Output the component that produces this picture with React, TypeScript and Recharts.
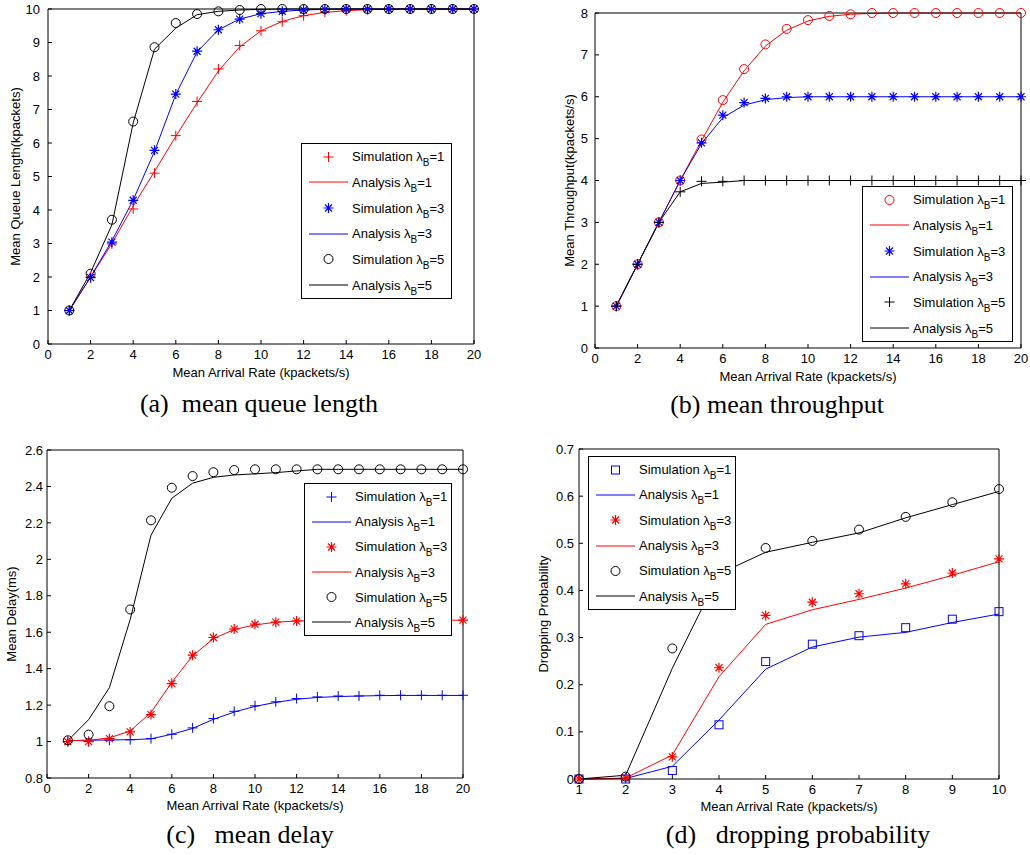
import { Label, Line, LineChart, XAxis, YAxis } from 'recharts';

const RED = '#ff0000';
const BLUE = '#0000ff';
const BLACK = '#000000';
const SANS = '"Liberation Sans", Arial, sans-serif';
const SERIF = '"Liberation Serif", "Times New Roman", serif';

// arrival rates (kpackets/s)
const ratesTo20 = [1, 2, 3, 4, 5, 6, 7, 8, 9, 10, 11, 12, 13, 14, 15, 16, 17, 18, 19, 20];
const ratesTo10 = [1, 2, 3, 4, 5, 6, 7, 8, 9, 10];

// (a) mean queue length
const queueSim1 = [1.0, 2.0, 2.99, 4.03, 5.1, 6.22, 7.24, 8.21, 8.91, 9.35, 9.62, 9.8, 9.9, 9.95, 9.98, 10, 10, 10, 10, 10];
const queueAna1 = [1.0, 2.0, 3.0, 4.12, 5.15, 6.2, 7.2, 8.15, 8.87, 9.35, 9.63, 9.8, 9.9, 9.95, 9.98, 9.99, 10, 10, 10, 10];
const queueSim3 = [1.0, 1.98, 3.04, 4.29, 5.78, 7.46, 8.74, 9.38, 9.7, 9.86, 9.93, 9.97, 9.99, 10, 10, 10, 10, 10, 10, 10];
const queueAna3 = [1.0, 2.0, 3.08, 4.3, 5.75, 7.45, 8.72, 9.38, 9.7, 9.86, 9.93, 9.97, 9.99, 10, 10, 10, 10, 10, 10, 10];
const queueSim5 = [1.0, 2.1, 3.71, 6.64, 8.86, 9.58, 9.85, 9.93, 9.97, 10, 10, 10, 10, 10, 10, 10, 10, 10, 10, 10];
const queueAna5 = [1.0, 2.13, 3.56, 6.6, 8.8, 9.43, 9.83, 9.93, 9.97, 9.99, 10, 10, 10, 10, 10, 10, 10, 10, 10, 10];

// (b) mean throughput
const tputSim1 = [1, 2, 3, 4, 4.98, 5.92, 6.66, 7.25, 7.62, 7.83, 7.93, 7.97, 8, 8, 8, 8, 8, 8, 8, 8];
const tputAna1 = [1, 2, 3, 4, 4.95, 5.87, 6.62, 7.21, 7.59, 7.81, 7.92, 7.97, 7.99, 8, 8, 8, 8, 8, 8, 8];
const tputSim3 = [1, 2, 3, 4, 4.9, 5.56, 5.86, 5.96, 6.0, 6, 6, 6, 6, 6, 6, 6, 6, 6, 6, 6];
const tputAna3 = [1, 2, 3, 4, 4.88, 5.5, 5.8, 5.93, 5.98, 6, 6, 6, 6, 6, 6, 6, 6, 6, 6, 6];
const tputSim5 = [1, 2, 3, 3.73, 3.98, 3.98, 4, 4, 4, 4, 4, 4, 4, 4, 4, 4, 4, 4, 4, 4];
const tputAna5 = [1, 2, 3, 3.73, 3.93, 3.96, 4, 4, 4, 4, 4, 4, 4, 4, 4, 4, 4, 4, 4, 4];

// (c) mean delay (ms)
const delaySim1 = [1.0, 1.0, 1.007, 1.01, 1.016, 1.04, 1.075, 1.126, 1.166, 1.196, 1.218, 1.236, 1.245, 1.25, 1.25, 1.254, 1.254, 1.254, 1.254, 1.254];
const delayAna1 = [1.005, 1.007, 1.009, 1.01, 1.015, 1.04, 1.072, 1.122, 1.162, 1.193, 1.215, 1.232, 1.242, 1.247, 1.25, 1.252, 1.253, 1.253, 1.253, 1.253];
const delaySim3 = [1.0, 1.0, 1.016, 1.053, 1.148, 1.318, 1.474, 1.571, 1.617, 1.644, 1.655, 1.661, 1.666, 1.666, 1.666, 1.666, 1.666, 1.666, 1.666, 1.666];
const delayAna3 = [1.005, 1.007, 1.02, 1.058, 1.16, 1.325, 1.47, 1.565, 1.615, 1.64, 1.655, 1.662, 1.665, 1.666, 1.666, 1.666, 1.666, 1.666, 1.666, 1.666];
const delaySim5 = [1.007, 1.038, 1.194, 1.725, 2.214, 2.393, 2.457, 2.478, 2.49, 2.494, 2.494, 2.494, 2.494, 2.494, 2.494, 2.494, 2.494, 2.494, 2.494, 2.494];
const delayAna5 = [1.005, 1.12, 1.296, 1.67, 2.133, 2.335, 2.418, 2.45, 2.463, 2.469, 2.476, 2.485, 2.494, 2.494, 2.494, 2.494, 2.494, 2.494, 2.494, 2.494];

// (d) dropping probability
const dropSim1 = [0, 0, 0.018, 0.115, 0.249, 0.286, 0.304, 0.321, 0.339, 0.355];
const dropAna1 = [0, 0.001, 0.027, 0.125, 0.233, 0.28, 0.301, 0.311, 0.332, 0.35];
const dropSim3 = [0, 0.002, 0.047, 0.236, 0.347, 0.375, 0.393, 0.414, 0.437, 0.467];
const dropAna3 = [0, 0.002, 0.051, 0.217, 0.328, 0.359, 0.381, 0.405, 0.432, 0.461];
const dropSim5 = [0, 0.005, 0.277, 0.44, 0.49, 0.505, 0.529, 0.556, 0.587, 0.615];
const dropAna5 = [0, 0.008, 0.235, 0.435, 0.481, 0.502, 0.522, 0.554, 0.582, 0.61];

// tick values
const rateTicks20 = [0, 2, 4, 6, 8, 10, 12, 14, 16, 18, 20];
const rateTicks10 = [1, 2, 3, 4, 5, 6, 7, 8, 9, 10];
const queueTicks = [0, 1, 2, 3, 4, 5, 6, 7, 8, 9, 10];
const tputTicks = [0, 1, 2, 3, 4, 5, 6, 7, 8];
const delayTicks = [0.8, 1, 1.2, 1.4, 1.6, 1.8, 2, 2.2, 2.4, 2.6];
const dropTicks = [0, 0.1, 0.2, 0.3, 0.4, 0.5, 0.6, 0.7];

type MarkKind = 'plus' | 'star' | 'circle' | 'square' | 'none';

type Series = {
  key: string;
  label: string;
  lambda: number;
  kind: MarkKind;
  color: string;
  values: number[];
};

type PanelConfig = {
  left: number;
  top: number;
  width: number;
  height: number;
  margin: { top: number; right: number; bottom: number; left: number };
  yAxisWidth: number;
  yTickMargin: number;
  yTitleOffset: number;
  xTitleOffset: number;
  rates: number[];
  xDomain: [number, number];
  xTicks: number[];
  yDomain: [number, number];
  yTicks: number[];
  yTitle: string;
  caption: string;
  captionX: number;
  captionY: number;
  legendLeft: number;
  legendTop: number;
  legendWidth: number;
  legendRow: number;
  series: Series[];
};

function sim(key: string, lambda: number, kind: MarkKind, color: string, values: number[]): Series {
  return { key, label: 'Simulation', lambda, kind, color, values };
}

function ana(key: string, lambda: number, color: string, values: number[]): Series {
  return { key, label: 'Analysis', lambda, kind: 'none', color, values };
}

// positions below are relative to each panel's box
const panels: PanelConfig[] = [
  {
    left: 0, top: 0, width: 515, height: 430,
    margin: { top: 8, right: 40, bottom: 56, left: 0 },
    yAxisWidth: 48, yTickMargin: 12, yTitleOffset: 15, xTitleOffset: -6,
    rates: ratesTo20, xDomain: [0, 20], xTicks: rateTicks20, yDomain: [0, 10], yTicks: queueTicks,
    yTitle: 'Mean Queue Length(kpackets)',
    caption: '(a)  mean queue length', captionX: 259, captionY: 404,
    legendLeft: 301, legendTop: 143, legendWidth: 151, legendRow: 25.67,
    series: [
      sim('s1', 1, 'plus', RED, queueSim1),
      ana('a1', 1, RED, queueAna1),
      sim('s3', 3, 'star', BLUE, queueSim3),
      ana('a3', 3, BLUE, queueAna3),
      sim('s5', 5, 'circle', BLACK, queueSim5),
      ana('a5', 5, BLACK, queueAna5)
    ]
  },
  {
    left: 515, top: 0, width: 515, height: 430,
    margin: { top: 12, right: 8, bottom: 52, left: 0 },
    yAxisWidth: 80, yTickMargin: 11, yTitleOffset: 54, xTitleOffset: -6,
    rates: ratesTo20, xDomain: [0, 20], xTicks: rateTicks20, yDomain: [0, 8], yTicks: tputTicks,
    yTitle: 'Mean Throughput(kpackets/s)',
    caption: '(b) mean throughput', captionX: 262, captionY: 405,
    legendLeft: 347, legendTop: 186, legendWidth: 151, legendRow: 25.67,
    series: [
      sim('s1', 1, 'circle', RED, tputSim1),
      ana('a1', 1, RED, tputAna1),
      sim('s3', 3, 'star', BLUE, tputSim3),
      ana('a3', 3, BLUE, tputAna3),
      sim('s5', 5, 'plus', BLACK, tputSim5),
      ana('a5', 5, BLACK, tputAna5)
    ]
  },
  {
    left: 0, top: 430, width: 515, height: 425,
    margin: { top: 19, right: 51, bottom: 47, left: 0 },
    yAxisWidth: 47, yTickMargin: 8, yTitleOffset: 11, xTitleOffset: -7,
    rates: ratesTo20, xDomain: [0, 20], xTicks: rateTicks20, yDomain: [0.8, 2.6], yTicks: delayTicks,
    yTitle: 'Mean Delay(ms)',
    caption: '(c)   mean delay', captionX: 250, captionY: 405,
    legendLeft: 304, legendTop: 53, legendWidth: 148, legendRow: 25.17,
    series: [
      sim('s1', 1, 'plus', BLUE, delaySim1),
      ana('a1', 1, BLUE, delayAna1),
      sim('s3', 3, 'star', RED, delaySim3),
      ana('a3', 3, RED, delayAna3),
      sim('s5', 5, 'circle', BLACK, delaySim5),
      ana('a5', 5, BLACK, delayAna5)
    ]
  },
  {
    left: 515, top: 430, width: 515, height: 425,
    margin: { top: 18, right: 30, bottom: 46, left: 0 },
    yAxisWidth: 64, yTickMargin: 9, yTitleOffset: 28, xTitleOffset: -7,
    rates: ratesTo10, xDomain: [1, 10], xTicks: rateTicks10, yDomain: [0, 0.7], yTicks: dropTicks,
    yTitle: 'Dropping Probability',
    caption: '(d)   dropping probability', captionX: 283, captionY: 405,
    legendLeft: 73, legendTop: 26, legendWidth: 148, legendRow: 25.33,
    series: [
      sim('s1', 1, 'square', BLUE, dropSim1),
      ana('a1', 1, BLUE, dropAna1),
      sim('s3', 3, 'star', RED, dropSim3),
      ana('a3', 3, RED, dropAna3),
      sim('s5', 5, 'circle', BLACK, dropSim5),
      ana('a5', 5, BLACK, dropAna5)
    ]
  }
];

function Mark({ cx, cy, kind, color }: { cx?: number | null; cy?: number | null; kind: MarkKind; color: string }) {
  if (cx == null || cy == null || kind === 'none') {
    return null;
  }
  const s = 5;
  if (kind === 'plus') {
    return <path d={`M${cx - s},${cy}H${cx + s}M${cx},${cy - s}V${cy + s}`} stroke={color} strokeWidth={1} fill="none" />;
  }
  if (kind === 'star') {
    const d = 3.5;
    return (
      <path
        d={`M${cx - s},${cy}H${cx + s}M${cx},${cy - s}V${cy + s}M${cx - d},${cy - d}L${cx + d},${cy + d}M${cx - d},${cy + d}L${cx + d},${cy - d}`}
        stroke={color}
        strokeWidth={1.2}
        fill="none"
      />
    );
  }
  if (kind === 'circle') {
    return <circle cx={cx} cy={cy} r={4.5} stroke={color} strokeWidth={1} fill="none" />;
  }
  return <rect x={cx - 4} y={cy - 4} width={8} height={8} stroke={color} strokeWidth={1} fill="none" />;
}

function LegendSymbol({ s }: { s: Series }) {
  return (
    <svg width={39} height={14} style={{ flex: 'none', marginLeft: 7, marginRight: 4 }}>
      {s.kind === 'none' ? (
        <line x1={0} x2={39} y1={7} y2={7} stroke={s.color} strokeWidth={1} />
      ) : (
        <Mark cx={19.5} cy={7} kind={s.kind} color={s.color} />
      )}
    </svg>
  );
}

function PanelLegend({ cfg }: { cfg: PanelConfig }) {
  return (
    <div
      style={{
        position: 'absolute',
        left: cfg.legendLeft,
        top: cfg.legendTop,
        width: cfg.legendWidth,
        boxSizing: 'border-box',
        border: '1px solid #000',
        background: '#fff',
        fontFamily: SANS,
        fontSize: 13,
        color: '#000'
      }}
    >
      {cfg.series.map((s) => (
        <div key={s.key} style={{ display: 'flex', alignItems: 'center', height: cfg.legendRow }}>
          <LegendSymbol s={s} />
          <span style={{ whiteSpace: 'nowrap', lineHeight: 1 }}>
            {s.label} λ<sub style={{ fontSize: 10, verticalAlign: -5, lineHeight: 0 }}>B</sub>={s.lambda}
          </span>
        </div>
      ))}
    </div>
  );
}

function formatTick(value: number): string {
  return String(Number(Number(value).toFixed(1)));
}

function Panel({ cfg }: { cfg: PanelConfig }) {
  const data = cfg.rates.map((rate, i) => {
    const row: Record<string, number> = { rate };
    cfg.series.forEach((s) => {
      row[s.key] = s.values[i];
    });
    return row;
  });
  const tickStyle = { fill: '#000', fontSize: 13 };
  const frame = { stroke: '#000', strokeWidth: 1 };

  return (
    <div style={{ position: 'absolute', left: cfg.left, top: cfg.top, width: cfg.width, height: cfg.height, fontFamily: SANS }}>
      <LineChart width={cfg.width} height={cfg.height} data={data} margin={cfg.margin}>
        <XAxis
          dataKey="rate"
          type="number"
          domain={cfg.xDomain}
          ticks={cfg.xTicks}
          interval={0}
          height={30}
          tickSize={-4}
          tickMargin={10}
          tick={tickStyle}
          axisLine={frame}
          tickLine={frame}
        >
          <Label value="Mean Arrival Rate (kpackets/s)" position="bottom" offset={cfg.xTitleOffset} style={{ fontSize: 13, fill: '#000' }} />
        </XAxis>
        <XAxis
          xAxisId="top"
          dataKey="rate"
          orientation="top"
          type="number"
          domain={cfg.xDomain}
          ticks={cfg.xTicks}
          interval={0}
          height={1}
          tickSize={-4}
          tick={false}
          axisLine={frame}
          tickLine={frame}
        />
        <YAxis
          type="number"
          domain={cfg.yDomain}
          ticks={cfg.yTicks}
          interval={0}
          width={cfg.yAxisWidth}
          tickSize={-4}
          tickMargin={cfg.yTickMargin}
          tickFormatter={formatTick}
          tick={tickStyle}
          axisLine={frame}
          tickLine={frame}
        >
          <Label
            value={cfg.yTitle}
            angle={-90}
            position="insideLeft"
            offset={cfg.yTitleOffset}
            style={{ textAnchor: 'middle', fontSize: 13, fill: '#000' }}
          />
        </YAxis>
        <YAxis
          yAxisId="right"
          orientation="right"
          type="number"
          domain={cfg.yDomain}
          ticks={cfg.yTicks}
          interval={0}
          width={1}
          tickSize={-4}
          tick={false}
          axisLine={frame}
          tickLine={frame}
        />
        {cfg.series.map((s) =>
          s.kind === 'none' ? (
            <Line key={s.key} dataKey={s.key} stroke={s.color} strokeWidth={1} dot={false} activeDot={false} isAnimationActive={false} />
          ) : (
            <Line
              key={s.key}
              dataKey={s.key}
              stroke="none"
              activeDot={false}
              isAnimationActive={false}
              dot={(p: any) => <Mark key={`${s.key}-${p.index}`} cx={p.cx} cy={p.cy} kind={s.kind} color={s.color} />}
            />
          )
        )}
      </LineChart>
      <PanelLegend cfg={cfg} />
      <div
        style={{
          position: 'absolute',
          left: cfg.captionX - 200,
          top: cfg.captionY - 15,
          width: 400,
          height: 30,
          lineHeight: '30px',
          textAlign: 'center',
          whiteSpace: 'pre',
          fontFamily: SERIF,
          fontSize: 26,
          color: '#000'
        }}
      >
        {cfg.caption}
      </div>
    </div>
  );
}

export default function App() {
  return (
    <div style={{ position: 'absolute', left: 0, top: 0, width: 1030, height: 855, background: '#fff' }}>
      {panels.map((cfg) => (
        <Panel key={cfg.caption} cfg={cfg} />
      ))}
    </div>
  );
}
